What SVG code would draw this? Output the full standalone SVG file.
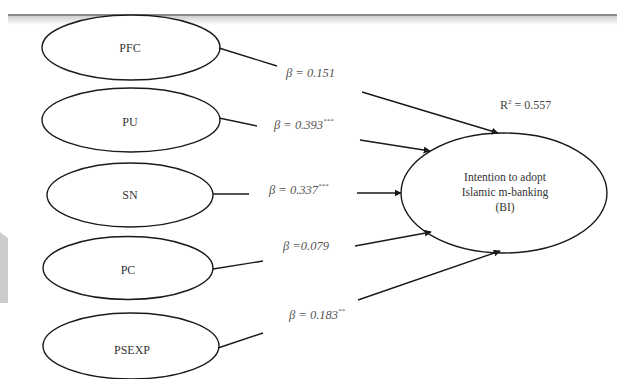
<svg xmlns="http://www.w3.org/2000/svg" width="617" height="379" viewBox="0 0 617 379">
<defs>
<linearGradient id="shade" x1="0" y1="0" x2="0" y2="1">
<stop offset="0" stop-color="#cfcfcf"/>
<stop offset="1" stop-color="#ffffff"/>
</linearGradient>
<marker id="arr" viewBox="0 0 10 10" refX="9" refY="5" markerWidth="7" markerHeight="7" markerUnits="userSpaceOnUse" orient="auto">
<path d="M0,0 L10,5 L0,10 z" fill="#1a1a1a"/>
</marker>
<style>
.node ellipse{fill:#ffffff;stroke:#1a1a1a;stroke-width:1.4}
.lbl{font-family:"Liberation Serif",serif;font-size:12px;fill:#333;text-anchor:middle}
.bi{font-size:11.5px}
.beta{font-family:"Liberation Serif",serif;font-size:12.5px;font-style:italic;fill:#555}
.sup{font-size:7px}
.conn line{stroke:#1a1a1a;stroke-width:1.4}
</style>
</defs>
<rect width="617" height="379" fill="#ffffff"/>
<rect x="8" y="16" width="609" height="9" fill="url(#shade)"/>
<rect x="8" y="14" width="609" height="2" fill="#8a8a8a"/>
<path d="M0,232 L8,238 L8,303 L0,303 z" fill="#cccccc"/>

<g id="PFC" class="node"><ellipse cx="131" cy="47.5" rx="89" ry="32.5"/><text class="lbl" x="130" y="52">PFC</text></g>
<g id="PU" class="node"><ellipse cx="131" cy="120" rx="89" ry="32"/><text class="lbl" x="130" y="126">PU</text></g>
<g id="SN" class="node"><ellipse cx="130" cy="195" rx="83" ry="32"/><text class="lbl" x="130" y="199">SN</text></g>
<g id="PC" class="node"><ellipse cx="128" cy="268" rx="85" ry="31.5"/><text class="lbl" x="128" y="274">PC</text></g>
<g id="PSEXP" class="node"><ellipse cx="131" cy="346" rx="88" ry="33"/><text class="lbl" x="132" y="354">PSEXP</text></g>
<g id="BI" class="node"><ellipse cx="504" cy="193" rx="103" ry="60"/>
<text class="lbl bi" x="505" y="181">Intention to adopt</text>
<text class="lbl bi" x="505" y="196">Islamic m-banking</text>
<text class="lbl bi" x="505" y="211">(BI)</text></g>

<g id="connectors" class="conn">
<line x1="219" y1="48" x2="277" y2="66"/>
<line x1="362" y1="92" x2="498" y2="133" marker-end="url(#arr)"/>
<line x1="219" y1="118" x2="257" y2="126"/>
<line x1="360" y1="140" x2="430" y2="151" marker-end="url(#arr)"/>
<line x1="213" y1="194" x2="249" y2="194"/>
<line x1="357" y1="193" x2="401" y2="193" marker-end="url(#arr)"/>
<line x1="213" y1="269" x2="263" y2="261"/>
<line x1="355" y1="246" x2="431" y2="232" marker-end="url(#arr)"/>
<line x1="218" y1="348" x2="263" y2="333"/>
<line x1="358" y1="300" x2="500" y2="251" marker-end="url(#arr)"/>
</g>

<g id="labels">
<text class="beta" x="286" y="77">β = 0.151</text>
<text class="beta" x="274" y="129">β = 0.393<tspan class="sup" dy="-6">***</tspan></text>
<text class="beta" x="269" y="194">β = 0.337<tspan class="sup" dy="-6">***</tspan></text>
<text class="beta" x="283" y="250">β =0.079</text>
<text class="beta" x="289" y="319">β = 0.183<tspan class="sup" dy="-6">**</tspan></text>
<text font-family="Liberation Serif, serif" font-size="12" fill="#444" x="500" y="109">R<tspan font-size="7" dy="-5">2</tspan><tspan dy="5"> = 0.557</tspan></text>
</g>
</svg>
